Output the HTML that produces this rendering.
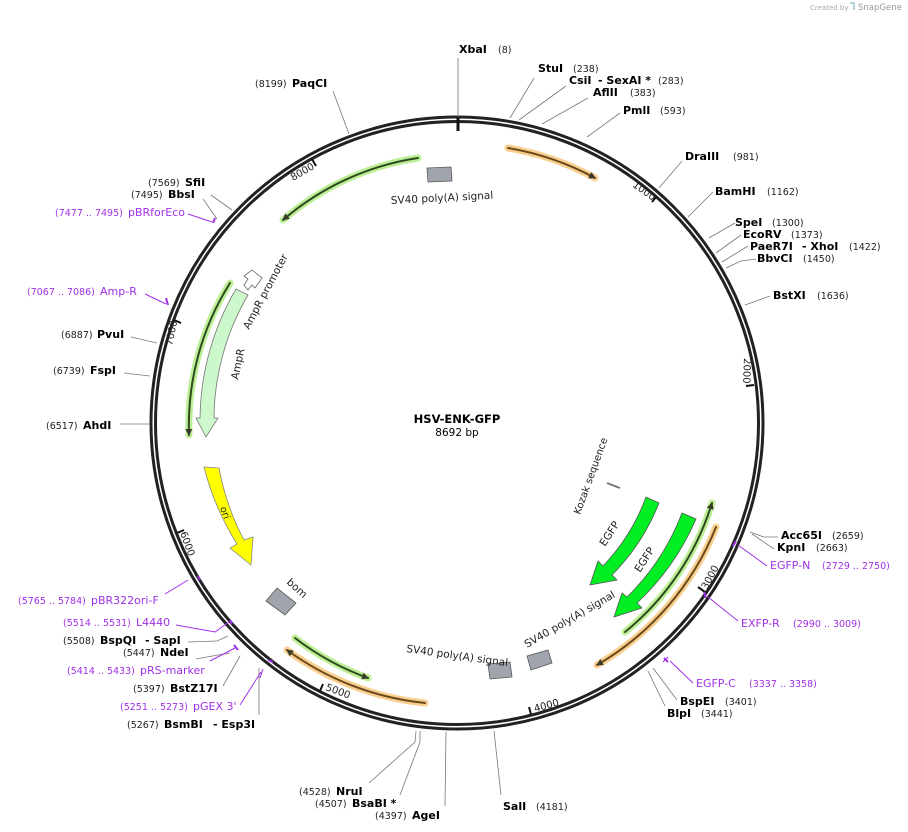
<!DOCTYPE html>
<html><head><meta charset="utf-8"><style>
html,body{margin:0;padding:0;background:#fff;}
svg{display:block;font-family:"DejaVu Sans","Liberation Sans",sans-serif;}
.n{font-weight:bold;font-size:11px;fill:#000}
.p{font-size:9.5px;fill:#222}
.pp{font-size:9.5px;fill:#a030e8}
.pn{font-size:11px;fill:#a030e8}
.f{font-size:10.5px;fill:#222}
.l{stroke:#777;stroke-width:0.8;fill:none}
.lp{stroke:#a030e8;stroke-width:1;fill:none}
</style></head><body>
<svg width="908" height="832" viewBox="0 0 908 832" xmlns="http://www.w3.org/2000/svg">
<defs>
<marker id="ah" markerWidth="8" markerHeight="8" refX="6" refY="4" orient="auto" markerUnits="userSpaceOnUse"><path d="M0,0.5 L7,4 L0,7.5 z" fill="#3a3a2a"/></marker>
</defs>
<text x="810" y="10" style="font-size:7px;fill:#aaa">Created by</text><text x="858" y="10" style="font-size:8.5px;fill:#999">SnapGene</text>
<path d="M850,3 l4,0 0,7" stroke="#6ab" fill="none"/>

<!-- backbone -->
<circle cx="457" cy="423" r="306" fill="none" stroke="#222" stroke-width="3"/>
<circle cx="457" cy="423" r="301.5" fill="none" stroke="#222" stroke-width="3"/>
<line x1="458" y1="117" x2="458" y2="131" stroke="#111" stroke-width="3"/>

<!-- ticks -->
<g stroke="#111" stroke-width="2">
<line x1="652" y1="202" x2="656" y2="197"/>
<line x1="746" y1="386" x2="754" y2="385"/>
<line x1="698" y1="587" x2="705" y2="592"/>
<line x1="529" y1="707" x2="531" y2="714"/>
<line x1="323" y1="684" x2="320" y2="691"/>
<line x1="184" y1="530" x2="177" y2="533"/>
<line x1="181" y1="323" x2="174" y2="320"/>
<line x1="316" y1="166" x2="312" y2="159"/>
</g>
<g class="p" style="font-size:10px">
<text transform="translate(632,186) rotate(36)">1000</text>
<text transform="translate(744,358) rotate(92)">2000</text>
<text transform="translate(707,590) rotate(-62)">3000</text>
<text transform="translate(535,712) rotate(-15)">4000</text>
<text transform="translate(325,690) rotate(20)">5000</text>
<text transform="translate(180,533) rotate(70)">6000</text>
<text transform="translate(172,346) rotate(-78)">7000</text>
<text transform="translate(293,181) rotate(-30)">8000</text>
</g>

<!-- feature arcs with highlight -->
<g fill="none" stroke-linecap="round">
<path d="M508,148 A280,280 0 0 1 595,178" stroke="#f9cf8f" stroke-width="7"/>
<path d="M508,148 A280,280 0 0 1 595,178" stroke="#6a4a1a" stroke-width="2" marker-end="url(#ah)"/>
<path d="M418,158 A268,268 0 0 0 283,220" stroke="#bcef96" stroke-width="7"/>
<path d="M418,158 A268,268 0 0 0 283,220" stroke="#2f4a1e" stroke-width="2" marker-end="url(#ah)"/>
<path d="M230,283 A268,268 0 0 0 189,435" stroke="#bcef96" stroke-width="7"/>
<path d="M230,283 A268,268 0 0 0 189,435" stroke="#2f4a1e" stroke-width="2" marker-end="url(#ah)"/>
<path d="M295,638 A270,270 0 0 0 368,678" stroke="#bcef96" stroke-width="7"/>
<path d="M295,638 A270,270 0 0 0 368,678" stroke="#2f4a1e" stroke-width="2" marker-end="url(#ah)"/>
<path d="M425,703 A282,282 0 0 1 287,650" stroke="#f9cf8f" stroke-width="7"/>
<path d="M425,703 A282,282 0 0 1 287,650" stroke="#6a4a1a" stroke-width="2" marker-end="url(#ah)"/>
<path d="M625,632 A268,268 0 0 0 712,503" stroke="#bcef96" stroke-width="7"/>
<path d="M625,632 A268,268 0 0 0 712,503" stroke="#2f4a1e" stroke-width="2" marker-end="url(#ah)"/>
<path d="M716,527 A279,279 0 0 1 597,665" stroke="#f9cf8f" stroke-width="7"/>
<path d="M716,527 A279,279 0 0 1 597,665" stroke="#6a4a1a" stroke-width="2" marker-end="url(#ah)"/>
</g>

<!-- AmpR -->
<path d="M236,289 L248,295 A248,248 0 0 0 214,418 L218,418 L206,437 L196,418 L200,418 A262,262 0 0 1 236,289 z" fill="#ccf8cc" stroke="#777" stroke-width="0.8"/>
<path d="M244,285 L248,279 L244,276 L252,270 L262,278 L255,288 L252,285 L248,290 Z" fill="#fff" stroke="#666" stroke-width="0.8"/>
<!-- ori -->
<path d="M204,467 L219,468 A252,252 0 0 0 244,540 L253,537 L251,565 L230,548 L237,544 A266,266 0 0 1 204,467 z" fill="#ffff00" stroke="#888" stroke-width="0.8"/>
<!-- EGFP -->
<path d="M646,497 L659,503 A212,212 0 0 1 612,575 L617,580 L590,585 L598,561 L603,566 A200,200 0 0 0 646,497 z" fill="#00ee22" stroke="#555" stroke-width="0.8"/>
<path d="M682,513 L696,519 A250,250 0 0 1 637,603 L642,608 L614,617 L622,593 L627,597 A236,236 0 0 0 682,513 z" fill="#00ee22" stroke="#555" stroke-width="0.8"/>
<line x1="607" y1="483" x2="620" y2="488" stroke="#777" stroke-width="2"/>

<!-- grey boxes -->
<g fill="#a0a4ac" stroke="#555" stroke-width="0.8">
<path d="M427,168 L451,167 L452,181 L428,182 z"/>
<path d="M488,664 L510,662 L512,677 L490,679 z"/>
<path d="M527,656 L548,650 L552,663 L531,670 z"/>
<path d="M266,601 L277,588 L296,603 L285,615 z"/>
</g>

<!-- feature labels -->
<g class="f">
<text transform="translate(391,204) rotate(-3)">SV40 poly(A) signal</text>
<text transform="translate(249,330) rotate(-62)">AmpR promoter</text>
<text transform="translate(238,380) rotate(-78)">AmpR</text>
<text transform="translate(220,508) rotate(70)" style="font-size:9.5px">ori</text>
<text transform="translate(286,583) rotate(42)">bom</text>
<text transform="translate(406,652) rotate(8)">SV40 poly(A) signal</text>
<text transform="translate(527,648) rotate(-30)">SV40 poly(A) signal</text>
<text transform="translate(605,547) rotate(-57)">EGFP</text>
<text transform="translate(640,573) rotate(-57)">EGFP</text>
<text transform="translate(580,515) rotate(-70)" style="font-size:10px">Kozak sequence</text>
</g>
<text x="457" y="423" text-anchor="middle" style="font-weight:bold;font-size:11.5px">HSV-ENK-GFP</text>
<text x="457" y="436" text-anchor="middle" style="font-size:10.5px">8692 bp</text>

<!-- leader lines -->
<g class="l">
<line x1="458" y1="58" x2="458" y2="117"/>
<line x1="534" y1="78" x2="510" y2="118"/>
<line x1="566" y1="86" x2="519" y2="120"/>
<line x1="588" y1="98" x2="542" y2="124"/>
<line x1="620" y1="113" x2="587" y2="137"/>
<line x1="682" y1="161" x2="659" y2="188"/>
<line x1="713" y1="192" x2="688" y2="217"/>
<line x1="735" y1="223" x2="709" y2="238"/>
<line x1="741" y1="235" x2="716" y2="253"/>
<line x1="748" y1="246" x2="722" y2="262"/>
<polyline points="756,259 741,261 726,268"/>
<line x1="770" y1="296" x2="745" y2="305"/>
<polyline points="778,537 764,537 750,532"/>
<polyline points="774,549 752,534"/>
<line x1="648" y1="671" x2="665" y2="706"/>
<line x1="653" y1="668" x2="677" y2="700"/>
<line x1="494" y1="731" x2="501" y2="795"/>
<line x1="446" y1="732" x2="445" y2="806"/>
<polyline points="420,731 420,742 400,795"/>
<polyline points="416,731 415,742 369,783"/>
<line x1="259" y1="668" x2="259" y2="715"/>
<line x1="240" y1="656" x2="223" y2="686"/>
<polyline points="230,653 218,655 196,659"/>
<polyline points="228,636 217,641 188,642"/>
<line x1="120" y1="424" x2="150" y2="424"/>
<line x1="124" y1="373" x2="150" y2="376"/>
<line x1="131" y1="337" x2="157" y2="343"/>
<line x1="211" y1="195" x2="232" y2="210"/>
<line x1="203" y1="199" x2="217" y2="219"/>
<line x1="333" y1="91" x2="349" y2="134"/>
</g>
<g class="lp">
<polyline points="767,566 738,545"/><line x1="733" y1="546" x2="736" y2="541" stroke-width="2"/>
<polyline points="738,621 708,597"/><line x1="704" y1="592" x2="706" y2="598" stroke-width="2"/>
<polyline points="693,683 670,661"/><line x1="664" y1="658" x2="668" y2="662" stroke-width="2"/><line x1="663" y1="662" x2="668" y2="657"/>
<polyline points="240,705 261,672"/><line x1="260" y1="678" x2="263" y2="669"/><line x1="268" y1="660" x2="273" y2="662" stroke-width="2"/>
<polyline points="210,661 235,648"/><line x1="234" y1="645" x2="238" y2="650" stroke-width="2"/>
<polyline points="176,625 215,632 229,622"/><line x1="230" y1="620" x2="232" y2="624" stroke-width="2"/>
<line x1="165" y1="594" x2="188" y2="580"/><line x1="198" y1="576" x2="200" y2="580" stroke-width="2"/>
<polyline points="145,294 166,304"/><line x1="166" y1="298" x2="168" y2="305" stroke-width="2"/>
<polyline points="188,214 212,222"/><line x1="215" y1="218" x2="213" y2="223" stroke-width="2"/>
</g>

<!-- enzyme labels -->
<text class="n" x="459" y="53">XbaI</text><text class="p" x="498" y="53">(8)</text>
<text class="n" x="538" y="72">StuI</text><text class="p" x="573" y="72">(238)</text>
<text class="n" x="569" y="84">CsiI</text><text class="n" x="598" y="84">- SexAI *</text><text class="p" x="658" y="84">(283)</text>
<text class="n" x="593" y="96">AflII</text><text class="p" x="630" y="96">(383)</text>
<text class="n" x="623" y="114">PmlI</text><text class="p" x="660" y="114">(593)</text>
<text class="n" x="685" y="160">DraIII</text><text class="p" x="733" y="160">(981)</text>
<text class="n" x="715" y="195">BamHI</text><text class="p" x="767" y="195">(1162)</text>
<text class="n" x="735" y="226">SpeI</text><text class="p" x="772" y="226">(1300)</text>
<text class="n" x="743" y="238">EcoRV</text><text class="p" x="791" y="238">(1373)</text>
<text class="n" x="750" y="250">PaeR7I</text><text class="n" x="802" y="250">- XhoI</text><text class="p" x="849" y="250">(1422)</text>
<text class="n" x="757" y="262">BbvCI</text><text class="p" x="803" y="262">(1450)</text>
<text class="n" x="773" y="299">BstXI</text><text class="p" x="817" y="299">(1636)</text>
<text class="n" x="781" y="539">Acc65I</text><text class="p" x="832" y="539">(2659)</text>
<text class="n" x="777" y="551">KpnI</text><text class="p" x="816" y="551">(2663)</text>
<text class="pn" x="770" y="569">EGFP-N</text><text class="pp" x="822" y="569">(2729 .. 2750)</text>
<text class="pn" x="741" y="627">EXFP-R</text><text class="pp" x="793" y="627">(2990 .. 3009)</text>
<text class="pn" x="696" y="687">EGFP-C</text><text class="pp" x="749" y="687">(3337 .. 3358)</text>
<text class="n" x="680" y="705">BspEI</text><text class="p" x="725" y="705">(3401)</text>
<text class="n" x="667" y="717">BlpI</text><text class="p" x="701" y="717">(3441)</text>
<text class="n" x="503" y="810">SalI</text><text class="p" x="536" y="810">(4181)</text>
<text class="p" x="375" y="819">(4397)</text><text class="n" x="412" y="819">AgeI</text>
<text class="p" x="315" y="807">(4507)</text><text class="n" x="352" y="807">BsaBI *</text>
<text class="p" x="299" y="795">(4528)</text><text class="n" x="336" y="795">NruI</text>
<text class="p" x="127" y="728">(5267)</text><text class="n" x="164" y="728">BsmBI</text><text class="n" x="213" y="728">- Esp3I</text>
<text class="pp" x="120" y="710">(5251 .. 5273)</text><text class="pn" x="193" y="710">pGEX 3'</text>
<text class="p" x="133" y="692">(5397)</text><text class="n" x="170" y="692">BstZ17I</text>
<text class="pp" x="67" y="674">(5414 .. 5433)</text><text class="pn" x="140" y="674">pRS-marker</text>
<text class="p" x="123" y="656">(5447)</text><text class="n" x="160" y="656">NdeI</text>
<text class="p" x="63" y="644">(5508)</text><text class="n" x="100" y="644">BspQI</text><text class="n" x="145" y="644">- SapI</text>
<text class="pp" x="63" y="626">(5514 .. 5531)</text><text class="pn" x="136" y="626">L4440</text>
<text class="pp" x="18" y="604">(5765 .. 5784)</text><text class="pn" x="91" y="604">pBR322ori-F</text>
<text class="p" x="46" y="429">(6517)</text><text class="n" x="83" y="429">AhdI</text>
<text class="p" x="53" y="374">(6739)</text><text class="n" x="90" y="374">FspI</text>
<text class="p" x="61" y="338">(6887)</text><text class="n" x="97" y="338">PvuI</text>
<text class="pp" x="27" y="295">(7067 .. 7086)</text><text class="pn" x="100" y="295">Amp-R</text>
<text class="pp" x="55" y="216">(7477 .. 7495)</text><text class="pn" x="128" y="216">pBRforEco</text>
<text class="p" x="131" y="198">(7495)</text><text class="n" x="168" y="198">BbsI</text>
<text class="p" x="148" y="186">(7569)</text><text class="n" x="185" y="186">SfiI</text>
<text class="p" x="255" y="87">(8199)</text><text class="n" x="292" y="87">PaqCI</text>
</svg>
</body></html>
